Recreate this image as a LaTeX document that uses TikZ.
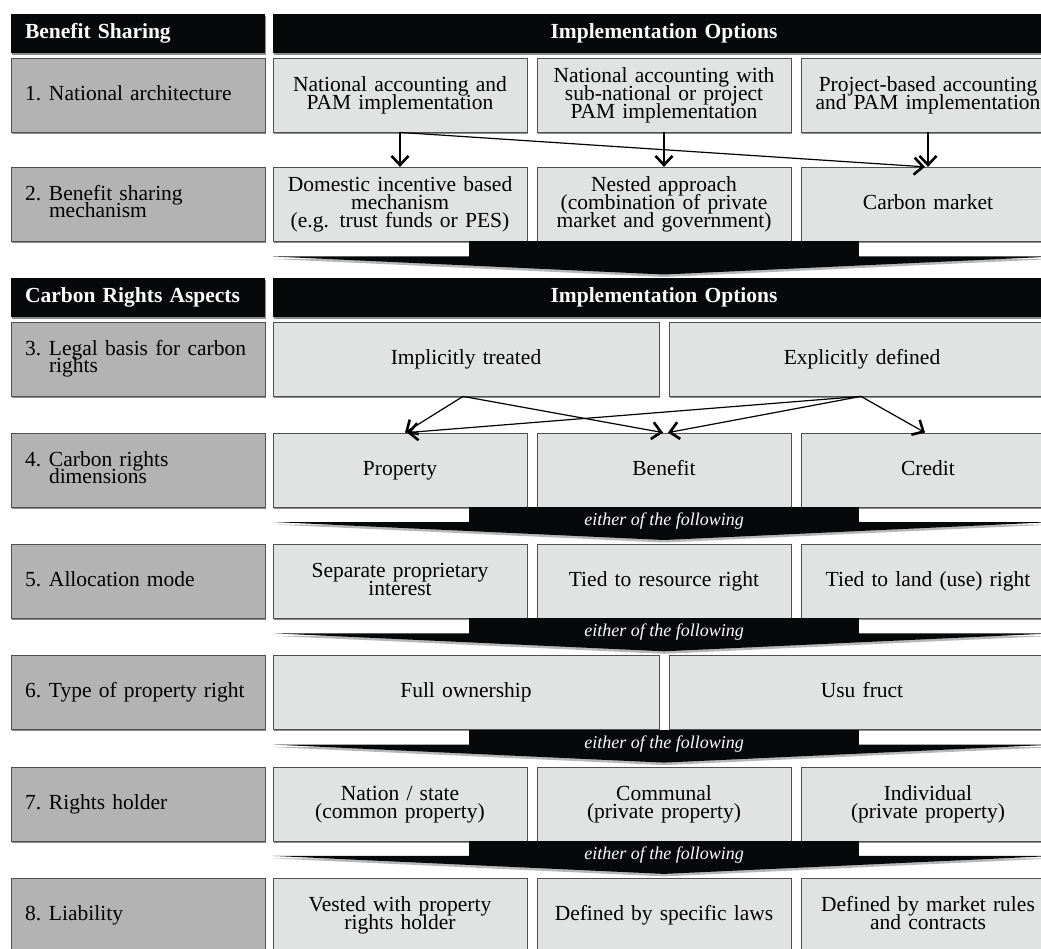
\documentclass[tikz,border=0pt]{standalone}
\usepackage{fontspec}
\setmainfont{Liberation Serif}
\usetikzlibrary{arrows.meta,shadows}
\definecolor{hdr}{HTML}{060809}
\definecolor{optfill}{HTML}{E1E2E2}
\definecolor{lblfill}{HTML}{B3B3B3}
\definecolor{edge}{HTML}{505050}
\newcommand\optfont{\fontsize{21.5}{18}\selectfont\lineskiplimit=-\maxdimen}
\newcommand\lblfont{\fontsize{21.5}{17}\selectfont\lineskiplimit=-\maxdimen}
\newcommand\hdrfont{\fontsize{21.5}{18}\selectfont\bfseries}
\newcommand\tstrut{\rule[-5pt]{0pt}{20.5pt}}
\newcommand\numlbl[2]{\makebox[24pt][l]{\tstrut#1}\parbox[t]{202pt}{\raggedright\baselineskip=17pt\lineskiplimit=-\maxdimen\tstrut#2\tstrut}}
\newcommand\bandarrow[1]{%
  \fill[black!28] (273,#1+17.5) -- (1055,#1+17.5) -- (664,#1+35.5) -- cycle;
  \fill[hdr] (469,#1) rectangle (859,#1+15.5);
  \fill[hdr] (273,#1+15) -- (1055,#1+15) -- (664,#1+33) -- cycle;}
\begin{document}
\begin{tikzpicture}[x=1pt,y=-1pt,
  shd/.style={drop shadow={shadow xshift=1.4pt,shadow yshift=-1.6pt,opacity=0.45,fill=black}},
  lblbox/.style={shd,draw=edge,fill=lblfill,line width=0.8pt,minimum height=74pt,text width=226pt,inner xsep=14pt,inner ysep=0pt,align=left,font=\lblfont},
  optbox/.style={shd,draw=edge,fill=optfill,line width=0.8pt,minimum height=74pt,text width=240pt,inner xsep=7pt,inner ysep=0pt,align=center,font=\optfont,
    execute at begin node=\tstrut, execute at end node=\tstrut},
  widebox/.style={optbox,text width=372pt},
  hdrleft/.style={shd,fill=hdr,text=white,minimum height=39pt,text width=226pt,inner xsep=14pt,inner ysep=0pt,align=left,font=\hdrfont},
  hdrright/.style={shd,fill=hdr,text=white,minimum height=39pt,text width=768pt,inner xsep=7pt,inner ysep=0pt,align=center,font=\hdrfont},
  arr/.style={draw=black,line width=1.2pt,-{Straight Barb[length=9pt,width=17pt,line width=2.6pt]}},
  bandtext/.style={text=white,font=\fontsize{18}{18}\selectfont\itshape,inner sep=0pt}
]
\useasboundingbox (0,0) rectangle (1041,949);
\clip (0,0) rectangle (1041,949);
\fill[white] (0,0) rectangle (1041,949);

% headers 1
\node[hdrleft] (h1l) at (138,33.5) {Benefit Sharing};
\node[hdrright] (h1r) at (664,33.5) {Implementation Options};
% row 1
\node[lblbox] (l1) at (138,95) {\numlbl{1.}{National architecture}};
\node[optbox] (o11) at (400,95) {National accounting and\\PAM implementation};
\node[optbox] (o12) at (664,95) {National accounting with\\sub-national or project\\PAM implementation};
\node[optbox] (o13) at (928,95) {Project-based accounting\\and PAM implementation};
% row 2
\node[lblbox] (l2) at (138,204.25) {\numlbl{2.}{Benefit sharing\\mechanism}};
\node[optbox] (o21) at (400,204.25) {Domestic incentive based\\mechanism\\(e.g. trust funds or PES)};
\node[optbox] (o22) at (664,204.25) {Nested approach\\(combination of private\\market and government)};
\node[optbox] (o23) at (928,204.25) {Carbon market};
% headers 2
\node[hdrleft] (h2l) at (138,297.5) {Carbon Rights Aspects};
\node[hdrright] (h2r) at (664,297.5) {Implementation Options};
% row 3
\node[lblbox] (l3) at (138,359) {\numlbl{3.}{Legal basis for carbon\\rights}};
\node[widebox] (o31) at (466,359) {Implicitly treated};
\node[widebox] (o32) at (862,359) {Explicitly defined};
% row 4
\node[lblbox] (l4) at (138,470) {\numlbl{4.}{Carbon rights\\dimensions}};
\node[optbox] (o41) at (400,470) {Property};
\node[optbox] (o42) at (664,470) {Benefit};
\node[optbox] (o43) at (928,470) {Credit};
% row 5
\node[lblbox] (l5) at (138,581.3) {\numlbl{5.}{Allocation mode}};
\node[optbox] (o51) at (400,581.3) {Separate proprietary\\interest};
\node[optbox] (o52) at (664,581.3) {Tied to resource right};
\node[optbox] (o53) at (928,581.3) {Tied to land (use) right};
% row 6
\node[lblbox] (l6) at (138,692.6) {\numlbl{6.}{Type of property right}};
\node[widebox] (o61) at (466,692.6) {Full ownership};
\node[widebox] (o62) at (862,692.6) {Usu fruct};
% row 7
\node[lblbox] (l7) at (138,803.9) {\numlbl{7.}{Rights holder}};
\node[optbox] (o71) at (400,803.9) {Nation / state\\(common property)};
\node[optbox] (o72) at (664,803.9) {Communal\\(private property)};
\node[optbox] (o73) at (928,803.9) {Individual\\(private property)};
% row 8
\node[lblbox] (l8) at (138,915.2) {\numlbl{8.}{Liability}};
\node[optbox] (o81) at (400,915.2) {Vested with property\\rights holder};
\node[optbox] (o82) at (664,915.2) {Defined by specific laws};
\node[optbox] (o83) at (928,915.2) {Defined by market rules\\and contracts};

% bands
\bandarrow{241.5}
\bandarrow{507}
\bandarrow{618.3}
\bandarrow{729.6}
\bandarrow{840.9}
\node[bandtext] (b4) at (664,521) {either of the following};
\node[bandtext] (b5) at (664,632.3) {either of the following};
\node[bandtext] (b6) at (664,743.6) {either of the following};
\node[bandtext] (b7) at (664,854.9) {either of the following};

% arrows row 1 -> row 2
\draw[arr] (o11.south) -- (o21.north);
\draw[arr] (o12.south) -- (o22.north);
\draw[arr] (o13.south) -- (o23.north);
\draw[arr] (o11.south) -- ([xshift=-3pt]o23.north);
% arrows row 3 -> row 4
\draw[arr] ([xshift=-3pt]o31.south) -- ([xshift=5pt]o41.north);
\draw[arr] ([xshift=-3pt]o31.south) -- ([xshift=-1pt]o42.north);
\draw[arr] ([xshift=-1pt]o32.south) -- ([xshift=7pt]o41.north);
\draw[arr] ([xshift=-1pt]o32.south) -- ([xshift=4pt]o42.north);
\draw[arr] ([xshift=-1pt]o32.south) -- ([xshift=-3pt]o43.north);
\end{tikzpicture}
\end{document}
